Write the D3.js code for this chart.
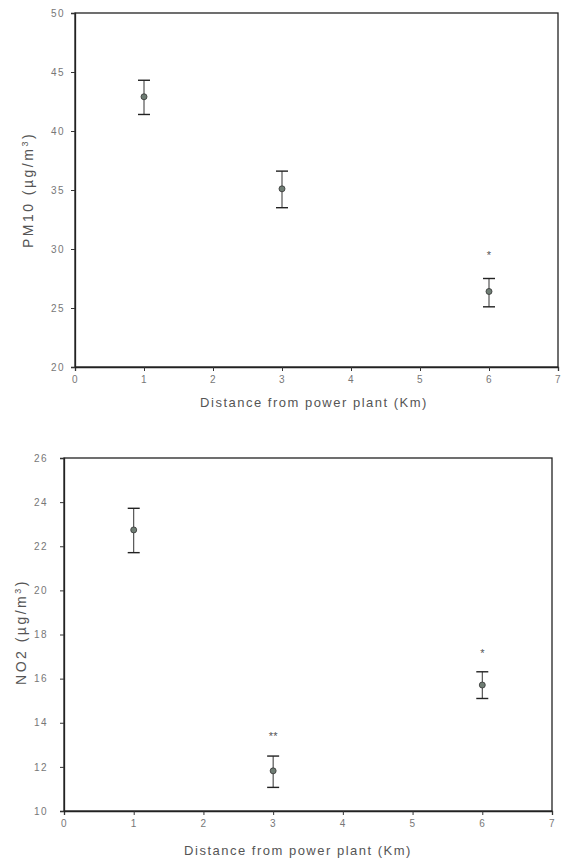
<!DOCTYPE html>
<html>
<head>
<meta charset="utf-8">
<script src="https://cdn.jsdelivr.net/npm/d3@7"></script>
<style>
  body { margin: 0; background: #fff; }
  .tick text { font-family: "Liberation Sans", Arial, sans-serif; font-size: 10px; letter-spacing: 1.5px; fill: #777; }
  .title { font-family: "Liberation Sans", Arial, sans-serif; fill: #555; }
</style>
</head>
<body>
<div class="container"></div>
<script>
const WIDTH = 563;
const HEIGHT = 861;

// shared x values (km)
var distances = [1, 3, 6];
var xTicks = [0, 1, 2, 3, 4, 5, 6, 7];

// PM10 panel
var pm10Mean = [42.9, 35.1, 26.4];
var pm10Upper = [44.3, 36.6, 27.5];
var pm10Lower = [41.4, 33.5, 25.1];
var pm10Sig = ["", "", "*"];
var pm10SigAt = [0, 0, 29.6];
var pm10Ticks = [20, 25, 30, 35, 40, 45, 50];

// NO2 panel
var no2Mean = [22.74, 11.82, 15.71];
var no2Upper = [23.72, 12.49, 16.31];
var no2Lower = [21.71, 11.07, 15.1];
var no2Sig = ["", "**", "*"];
var no2SigAt = [0, 13.44, 17.22];
var no2Ticks = [10, 12, 14, 16, 18, 20, 22, 24, 26];

var drawPanel = function(svg, p){
    var x = d3.scaleLinear().domain([0, 7]).range([p.left, p.right]);
    var y = d3.scaleLinear().domain(p.yDomain).range([p.bottom, p.top]);

    var g = svg.append("g");

    // frame
    g.append("rect")
        .attr("x", p.left).attr("y", p.top)
        .attr("width", p.right - p.left).attr("height", p.bottom - p.top)
        .attr("fill", "none").attr("stroke", "#222").attr("stroke-width", 1.3);

    var xa = g.append("g")
        .attr("transform", "translate(0," + p.bottom + ")")
        .call(d3.axisBottom(x).tickValues(xTicks).tickSize(4).tickPadding(5).tickFormat(d3.format("d")));
    var ya = g.append("g")
        .attr("transform", "translate(" + p.left + ",0)")
        .call(d3.axisLeft(y).tickValues(p.yTicks).tickSize(4).tickPadding(p.yPad).tickFormat(d3.format("d")));
    [xa, ya].forEach(function(a){
        a.select(".domain").attr("stroke", "#222").attr("stroke-width", 1.3);
        a.selectAll(".tick line").attr("stroke", "#333");
    });

    // axis titles
    g.append("text")
        .attr("class", "title")
        .attr("x", p.xTitleX).attr("y", p.xTitleY)
        .attr("text-anchor", "middle")
        .style("font-size", "13px")
        .style("letter-spacing", "1.5px")
        .text("Distance from power plant (Km)");

    var yt = g.append("text")
        .attr("class", "title")
        .attr("transform", "translate(" + p.yTitleX + "," + p.yTitleY + ") rotate(-90)")
        .attr("text-anchor", "middle")
        .style("font-size", "14px")
        .style("letter-spacing", "2.5px");
    yt.append("tspan").text(p.label + " (µg/m");
    yt.append("tspan").attr("dy", -5).style("font-size", "9px").text("3");
    yt.append("tspan").attr("dy", 5).text(")");

    var rows = distances.map(function(d, i){
        return {x: d, m: p.mean[i], hi: p.upper[i], lo: p.lower[i], s: p.sig[i], sy: p.sigAt[i]};
    });

    var bars = g.selectAll(".err").data(rows).enter().append("g").attr("class", "err");
    bars.append("line")
        .attr("x1", function(d){ return x(d.x); })
        .attr("x2", function(d){ return x(d.x); })
        .attr("y1", function(d){ return y(d.hi); })
        .attr("y2", function(d){ return y(d.lo); })
        .attr("stroke", "#333").attr("stroke-width", 1);
    ["hi", "lo"].forEach(function(k){
        bars.append("line")
            .attr("x1", function(d){ return x(d.x) - 6; })
            .attr("x2", function(d){ return x(d.x) + 6; })
            .attr("y1", function(d){ return y(d[k]); })
            .attr("y2", function(d){ return y(d[k]); })
            .attr("stroke", "#222").attr("stroke-width", 1.4);
    });
    bars.append("circle")
        .attr("cx", function(d){ return x(d.x); })
        .attr("cy", function(d){ return y(d.m); })
        .attr("r", 3)
        .attr("fill", "#6f7d74").attr("stroke", "#333").attr("stroke-width", 0.8);

    bars.filter(function(d){ return d.s !== ""; })
        .append("text")
        .attr("class", "title")
        .attr("x", function(d){ return x(d.x); })
        .attr("y", function(d){ return y(d.sy) + 5; })
        .attr("text-anchor", "middle")
        .style("font-size", "11px")
        .text(function(d){ return d.s; });
};

var load = function(){
    var svg = d3.select(".container")
        .append("svg")
        .attr("width", WIDTH)
        .attr("height", HEIGHT);

    drawPanel(svg, {
        left: 75, right: 558, top: 13, bottom: 367,
        yDomain: [20, 50], yTicks: pm10Ticks, yPad: 6,
        mean: pm10Mean, upper: pm10Upper, lower: pm10Lower, sig: pm10Sig, sigAt: pm10SigAt,
        label: "PM10", xTitleX: 314, xTitleY: 407, yTitleX: 33, yTitleY: 190
    });

    drawPanel(svg, {
        left: 64, right: 552, top: 458, bottom: 811,
        yDomain: [10, 26], yTicks: no2Ticks, yPad: 12,
        mean: no2Mean, upper: no2Upper, lower: no2Lower, sig: no2Sig, sigAt: no2SigAt,
        label: "NO2", xTitleX: 298, xTitleY: 855, yTitleX: 26, yTitleY: 632
    });
};

window.onload = load;
</script>
</body>
</html>
